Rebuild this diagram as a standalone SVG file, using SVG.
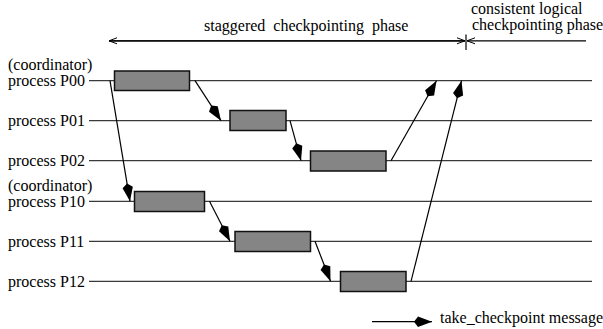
<svg xmlns="http://www.w3.org/2000/svg" width="603" height="329" viewBox="0 0 603 329" font-family="'Liberation Serif', 'Times New Roman', 'DejaVu Serif', serif" font-size="16">
<style>
.t{font-family:"Liberation Serif","Times New Roman","DejaVu Serif",serif;font-size:16px;fill:#000}
.pl{stroke:#3a3a3a;stroke-width:1.3;fill:none}
.box{fill:#858585;stroke:#111;stroke-width:1.5}
.msg{stroke:#000;stroke-width:1.2;fill:none;marker-end:url(#kite)}
.ph{stroke:#000;stroke-width:1.2;fill:none}
</style>
<defs>
<marker id="kite" markerUnits="userSpaceOnUse" viewBox="0 0 20 12" refX="19" refY="6" markerWidth="20" markerHeight="12" orient="auto" overflow="visible">
<path d="M19,6 L5,0.8 L1,6 L5,11.2 Z" fill="#000"/>
</marker>
<marker id="open" markerUnits="userSpaceOnUse" viewBox="0 0 11 10" refX="9" refY="5" markerWidth="11" markerHeight="10" orient="auto" overflow="visible">
<path d="M1,2 L9,5 L1,8" fill="none" stroke="#000" stroke-width="1"/>
</marker>
</defs>
<g id="labels">
<text class="t" x="204" y="31" xml:space="preserve">staggered  checkpointing  phase</text>
<text class="t" x="471" y="14">consistent logical</text>
<text class="t" x="472" y="30">checkpointing phase</text>
<text class="t" x="440" y="323">take_checkpoint message</text>
</g>
<g id="P00"><text class="t" x="8" y="70">(coordinator)</text><text class="t" x="8" y="86">process P00</text><line class="pl" x1="89" y1="80.7" x2="592" y2="80.7"/><rect class="box" x="114.5" y="71" width="75" height="19.5"/></g>
<g id="P01"><text class="t" x="8" y="126">process P01</text><line class="pl" x1="89" y1="120.7" x2="592" y2="120.7"/><rect class="box" x="230" y="110.5" width="56" height="20"/></g>
<g id="P02"><text class="t" x="8" y="166">process P02</text><line class="pl" x1="89" y1="160.7" x2="592" y2="160.7"/><rect class="box" x="310.5" y="151" width="75.5" height="20"/></g>
<g id="P10"><text class="t" x="8" y="191">(coordinator)</text><text class="t" x="8" y="207">process P10</text><line class="pl" x1="89" y1="201.3" x2="592" y2="201.3"/><rect class="box" x="134.5" y="191.5" width="70" height="20"/></g>
<g id="P11"><text class="t" x="8" y="247">process P11</text><line class="pl" x1="89" y1="241.3" x2="592" y2="241.3"/><rect class="box" x="235" y="231.5" width="75.5" height="20"/></g>
<g id="P12"><text class="t" x="8" y="287">process P12</text><line class="pl" x1="89" y1="281.3" x2="592" y2="281.3"/><rect class="box" x="340.5" y="271.5" width="65.5" height="20"/></g>
<g id="connectors">
<line class="ph" x1="465" y1="40.8" x2="109" y2="40.8" marker-end="url(#open)"/>
<line class="ph" x1="109" y1="40.8" x2="465" y2="40.8" marker-end="url(#open)"/>
<line class="ph" x1="586" y1="40.8" x2="467" y2="40.8" marker-end="url(#open)"/>
<line class="ph" x1="466" y1="34.5" x2="466" y2="50"/>
<line class="msg" x1="195" y1="80.7" x2="221" y2="120.7"/>
<line class="msg" x1="290" y1="120.7" x2="301" y2="160.7"/>
<line class="msg" x1="110" y1="80.7" x2="130" y2="201.3"/>
<line class="msg" x1="209.5" y1="201.3" x2="230" y2="241.3"/>
<line class="msg" x1="315" y1="241.3" x2="330.5" y2="281.3"/>
<line class="msg" x1="391" y1="160.7" x2="436.5" y2="80.7"/>
<line class="msg" x1="411" y1="281.3" x2="461.5" y2="80.7"/>
<line class="msg" x1="372" y1="321.7" x2="432" y2="321.7"/>
</g>
</svg>
